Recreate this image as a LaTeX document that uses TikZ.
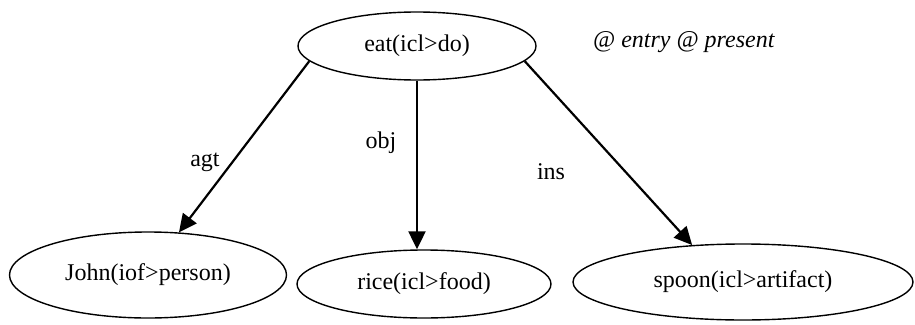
\documentclass[tikz,border=0pt]{standalone}
\usepackage{fontspec}
\setmainfont{Liberation Serif}
\usetikzlibrary{arrows.meta,shapes.geometric}
\begin{document}
\begin{tikzpicture}[x=1pt,y=-1pt,
  concept/.style={draw, line width=1.4pt, ellipse, inner sep=0pt,
    font=\fontsize{24}{28}\selectfont},
  rel/.style={line width=2.2pt, -{Triangle[length=18pt,width=17pt]}},
  rlabel/.style={inner sep=0pt, font=\fontsize{24}{28}\selectfont}]
\useasboundingbox (0,0) rectangle (915,324);
% concepts
\node[concept, minimum width=238pt, minimum height=68pt] (eat) at (417,46) {eat(icl>do)};
\node[concept, minimum width=277pt, minimum height=86pt] (john) at (148,275) {John(iof>person)};
\node[concept, minimum width=254pt, minimum height=68pt] (rice) at (424,284) {rice(icl>food)};
\node[concept, minimum width=340pt, minimum height=76pt] (spoon) at (743,282) {spoon(icl>artifact)};
% attributes of the entry
\node[rlabel, anchor=west, font=\fontsize{24}{28}\selectfont\itshape] (attr) at (593,42) {@ entry @ present};
% relations
\draw[rel] (eat.188) -- (john.54);
\draw[rel] (eat.south) -- (eat.south |- rice.north);
\draw[rel] (eat.352) -- (spoon.144);
\node[rlabel] (agt) at (205,162) {agt};
\node[rlabel] (obj) at (381,143) {obj};
\node[rlabel] (ins) at (551,172) {ins};
\end{tikzpicture}
\end{document}
